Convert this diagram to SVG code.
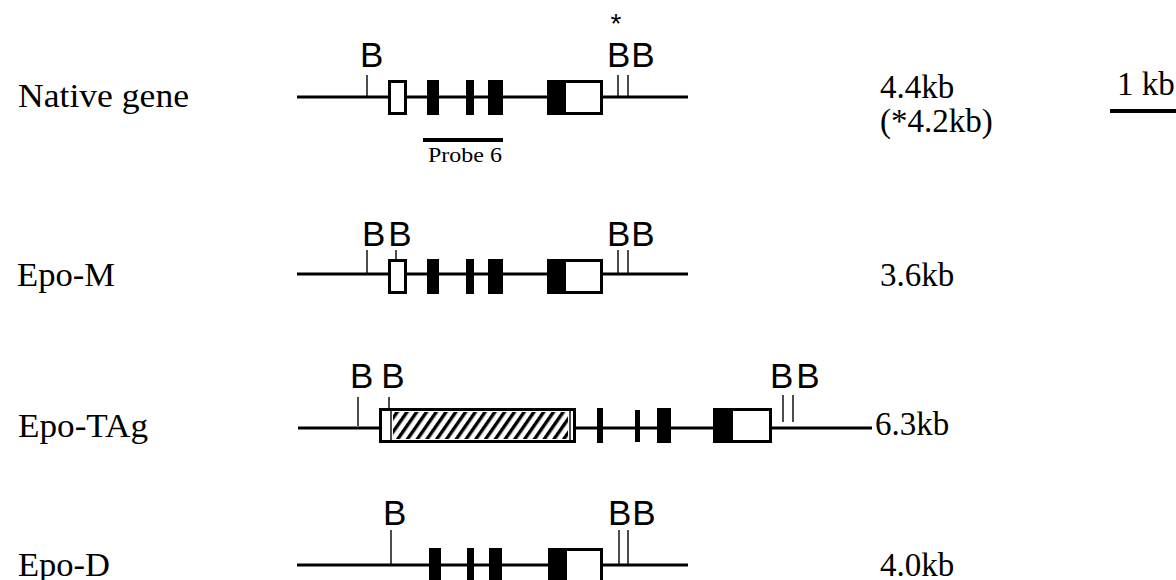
<svg xmlns="http://www.w3.org/2000/svg" width="1176" height="580" viewBox="0 0 1176 580">
  <style>
    .lbl { font-family: "Liberation Serif", "Times New Roman", serif; font-size: 33px; fill: #000; }
    .probe { font-family: "Liberation Serif", "Times New Roman", serif; font-size: 21px; fill: #000; }
    .site { font-family: "Liberation Sans", Arial, sans-serif; font-size: 35px; fill: #000; }
    .star { font-family: "Liberation Sans", Arial, sans-serif; font-size: 28px; fill: #000; }
    .dna { stroke: #000; stroke-width: 3; fill: none; }
    .tick { stroke: #000; stroke-width: 1.4; fill: none; }
    .exon { fill: #000; }
    .utr { fill: #fff; stroke: #000; stroke-width: 3; }
  </style>
  <defs>
    <pattern id="hatch" patternUnits="userSpaceOnUse" width="8" height="10" patternTransform="rotate(35)">
      <rect x="0" y="0" width="3.4" height="10" fill="#000"/>
    </pattern>
  </defs>
  <rect width="1176" height="580" fill="#fff"/>

  <!-- row labels -->
  <g id="labels">
    <text class="lbl" x="18" y="107" textLength="171" lengthAdjust="spacingAndGlyphs">Native gene</text>
    <text class="lbl" x="17" y="286" textLength="98" lengthAdjust="spacingAndGlyphs">Epo-M</text>
    <text class="lbl" x="18" y="437" textLength="130" lengthAdjust="spacingAndGlyphs">Epo-TAg</text>
    <text class="lbl" x="18" y="576" textLength="92" lengthAdjust="spacingAndGlyphs">Epo-D</text>
  </g>

  <!-- fragment sizes -->
  <g id="sizes">
    <text class="lbl" x="880" y="98">4.4kb</text>
    <text class="lbl" x="880" y="132">(*4.2kb)</text>
    <text class="lbl" x="880" y="286">3.6kb</text>
    <text class="lbl" x="875" y="435">6.3kb</text>
    <text class="lbl" x="880" y="576">4.0kb</text>
  </g>

  <!-- scale bar -->
  <g id="scale">
    <text class="lbl" x="1117" y="95">1 kb</text>
    <rect x="1110" y="109" width="66" height="4" fill="#000"/>
  </g>

  <!-- native gene -->
  <g id="native">
    <line class="dna" x1="297" y1="97" x2="688" y2="97"/>
    <line class="tick" x1="367" y1="75" x2="367" y2="97"/>
    <line class="tick" x1="618" y1="75" x2="618" y2="97"/>
    <line class="tick" x1="628" y1="75" x2="628" y2="97"/>
    <text class="site" x="360" y="67">B</text>
    <text class="site" x="607" y="67" letter-spacing="1">BB</text>
    <text class="star" x="616" y="33" text-anchor="middle">*</text>
    <rect class="utr" x="389.5" y="81.5" width="16" height="32"/>
    <rect class="exon" x="427" y="80" width="12" height="35"/>
    <rect class="exon" x="466" y="80" width="8" height="35"/>
    <rect class="exon" x="488" y="80" width="15" height="35"/>
    <rect class="utr" x="548.5" y="81.5" width="53" height="32"/>
    <rect class="exon" x="547" y="80" width="19" height="35"/>
    <rect x="423" y="138" width="80" height="4" fill="#000"/>
    <text class="probe" x="428" y="162" textLength="74" lengthAdjust="spacingAndGlyphs">Probe 6</text>
  </g>

  <!-- Epo-M -->
  <g id="epo-m">
    <line class="dna" x1="297" y1="274" x2="688" y2="274"/>
    <line class="tick" x1="367" y1="250" x2="367" y2="274"/>
    <line class="tick" x1="396" y1="250" x2="396" y2="259"/>
    <line class="tick" x1="618" y1="250" x2="618" y2="274"/>
    <line class="tick" x1="628" y1="250" x2="628" y2="274"/>
    <text class="site" x="362" y="246" letter-spacing="3">BB</text>
    <text class="site" x="607" y="246" letter-spacing="1">BB</text>
    <rect class="utr" x="389.5" y="260.5" width="16" height="32"/>
    <rect class="exon" x="427" y="259" width="12" height="35"/>
    <rect class="exon" x="466" y="259" width="8" height="35"/>
    <rect class="exon" x="488" y="259" width="15" height="35"/>
    <rect class="utr" x="548.5" y="260.5" width="53" height="32"/>
    <rect class="exon" x="547" y="259" width="19" height="35"/>
  </g>

  <!-- Epo-TAg -->
  <g id="epo-tag">
    <line class="dna" x1="298" y1="428" x2="872" y2="428"/>
    <line class="tick" x1="358" y1="397" x2="358" y2="426"/>
    <line class="tick" x1="389" y1="397" x2="389" y2="408"/>
    <line class="tick" x1="783" y1="395" x2="783" y2="422"/>
    <line class="tick" x1="793" y1="395" x2="793" y2="422"/>
    <text class="site" x="350" y="388" letter-spacing="8">BB</text>
    <text class="site" x="770" y="388" letter-spacing="3">BB</text>
    <rect class="utr" x="380.5" y="409.5" width="194" height="32"/>
    <rect x="393" y="412" width="175" height="27" fill="url(#hatch)"/>
    <line class="tick" x1="391" y1="409" x2="391" y2="442" stroke-width="2"/>
    <line class="tick" x1="570" y1="409" x2="570" y2="442" stroke-width="2"/>
    <rect class="exon" x="597" y="408" width="6" height="35"/>
    <rect class="exon" x="635" y="410" width="5" height="32"/>
    <rect class="exon" x="657" y="408" width="14" height="35"/>
    <rect class="utr" x="714.5" y="409.5" width="56" height="32"/>
    <rect class="exon" x="713" y="408" width="20" height="35"/>
  </g>

  <!-- Epo-D -->
  <g id="epo-d">
    <line class="dna" x1="297" y1="565" x2="688" y2="565"/>
    <line class="tick" x1="391" y1="530" x2="391" y2="565"/>
    <line class="tick" x1="619" y1="530" x2="619" y2="565"/>
    <line class="tick" x1="628" y1="530" x2="628" y2="565"/>
    <text class="site" x="383" y="525">B</text>
    <text class="site" x="608" y="525" letter-spacing="1">BB</text>
    <rect class="exon" x="429" y="548" width="12" height="35"/>
    <rect class="exon" x="467" y="548" width="7" height="35"/>
    <rect class="exon" x="489" y="548" width="13" height="35"/>
    <rect class="utr" x="549.5" y="549.5" width="52" height="32"/>
    <rect class="exon" x="548" y="548" width="19" height="35"/>
  </g>
</svg>
